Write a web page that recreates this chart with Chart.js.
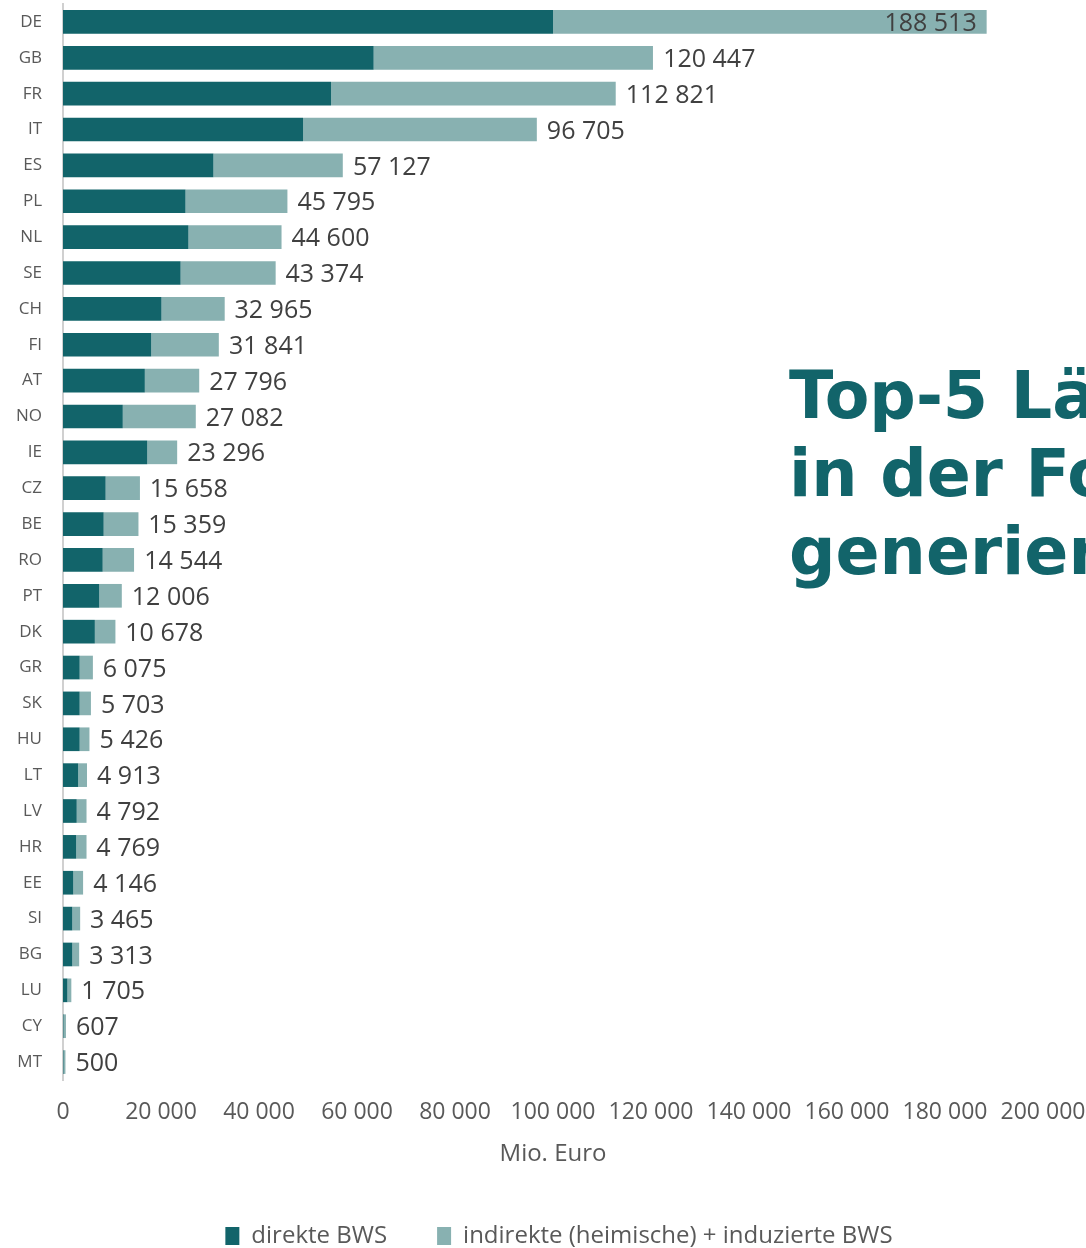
<!DOCTYPE html>
<html>
<head>
<meta charset="utf-8">
<script src="https://cdn.jsdelivr.net/npm/chart.js@4/dist/chart.umd.min.js"></script>
<style>
  html, body { margin: 0; padding: 0; background: #fff; overflow: hidden; }
  #wrap { position: relative; width: 1086px; height: 1248px; overflow: hidden; }
  #heading {
    position: absolute; left: 789px; top: 357px;
    font: bold 65px "DejaVu Sans", sans-serif; line-height: 78px;
    color: #12646a; white-space: nowrap;
  }
</style>
</head>
<body>
<div id="wrap">
  <canvas id="bwsChart" width="1086" height="1258"></canvas>
  <div id="heading">Top-5 Länder<br>in der Forschung<br>generieren</div>
</div>
<script>
// countries, top to bottom
const countries = ["DE","GB","FR","IT","ES","PL","NL","SE","CH","FI","AT","NO","IE","CZ","BE",
  "RO","PT","DK","GR","SK","HU","LT","LV","HR","EE","SI","BG","LU","CY","MT"];

// direkte BWS (Mio. Euro)
const direct = [100000,63400,54700,49000,30700,25000,25600,24000,20100,18000,16700,12200,17200,8700,8300,
  8100,7400,6500,3400,3400,3400,3100,2800,2700,2100,1900,1900,900,100,100];

// indirekte (heimische) + induzierte BWS
const indirect = [88500,57000,58100,47700,26400,20800,19000,19400,12900,13800,11100,14900,6100,7000,7100,
  6400,4600,4200,2700,2300,2000,1800,2000,2100,2000,1600,1400,800,500,400];

// totals printed next to each bar
const totals = [188513,120447,112821,96705,57127,45795,44600,43374,32965,31841,27796,27082,23296,15658,15359,
  14544,12006,10678,6075,5703,5426,4913,4792,4769,4146,3465,3313,1705,607,500];

const xTicks = [0,20000,40000,60000,80000,100000,120000,140000,160000,180000,200000];

const darkTeal = "#12646a";
const lightTeal = "#88b1b1";
const grey = "#595959";

function fmt(n) {
  return String(n).replace(/\B(?=(\d{3})+(?!\d))/g, " ");
}

// total labels at the end of each stack
const totalLabels = {
  id: "totalLabels",
  afterDatasetsDraw(chart) {
    const {ctx, chartArea} = chart;
    const x = chart.scales.x, y = chart.scales.y;
    ctx.save();
    ctx.font = '25px "Open Sans"';
    ctx.fillStyle = "#404040";
    ctx.textBaseline = "middle";
    totals.forEach((t, i) => {
      const txt = fmt(t);
      const xe = x.getPixelForValue(t);
      const yc = y.getPixelForValue(i) + 2;
      const w = ctx.measureText(txt).width;
      if (xe + 10 + w > chartArea.right) {
        ctx.textAlign = "right";
        ctx.fillText(txt, xe - 10, yc);
      } else {
        ctx.textAlign = "left";
        ctx.fillText(txt, xe + 10, yc);
      }
    });
    ctx.restore();
  }
};

const ctx = document.getElementById("bwsChart");

new Chart(ctx, {
  type: "bar",
  data: {
    labels: countries,
    datasets: [
      { label: "direkte BWS", data: direct, backgroundColor: darkTeal },
      { label: "indirekte (heimische) + induzierte BWS", data: indirect, backgroundColor: lightTeal }
    ]
  },
  options: {
    indexAxis: "y",
    responsive: false,
    animation: false,
    devicePixelRatio: 1,
    barPercentage: 0.66,
    categoryPercentage: 1,
    // negative right padding widens the legend box so the legend sits right of centre
    layout: { padding: { top: 4, right: -32, bottom: 0, left: 0 } },
    scales: {
      x: {
        stacked: true,
        min: 0,
        max: 200000,
        afterBuildTicks: (s) => { s.ticks = xTicks.map(v => ({ value: v })); },
        afterFit: (s) => { s.height = 94; s.paddingLeft = 0; s.paddingRight = 43; },
        grid: { display: false, drawTicks: false },
        border: { display: false },
        ticks: {
          padding: 19,
          color: grey,
          font: { family: "Open Sans", size: 23 },
          maxRotation: 0,
          callback: (v) => fmt(v)
        },
        title: {
          display: true,
          text: "Mio. Euro",
          color: grey,
          font: { family: "Open Sans", size: 24 },
          padding: { top: 0, bottom: 5 }
        }
      },
      y: {
        stacked: true,
        afterFit: (s) => { s.width = 63; s.paddingTop = 0; s.paddingBottom = 0; },
        grid: { display: false, drawTicks: false },
        border: { display: true, color: "#d0d0d0", width: 2 },
        ticks: {
          padding: 21,
          color: grey,
          font: { family: "Open Sans", size: 17 }
        }
      }
    },
    plugins: {
      legend: {
        position: "bottom",
        labels: {
          boxWidth: 14,
          boxHeight: 18,
          padding: 50,
          color: grey,
          font: { family: "Open Sans", size: 24 }
        }
      },
      tooltip: { enabled: false }
    }
  },
  plugins: [totalLabels]
});
</script>
</body>
</html>
